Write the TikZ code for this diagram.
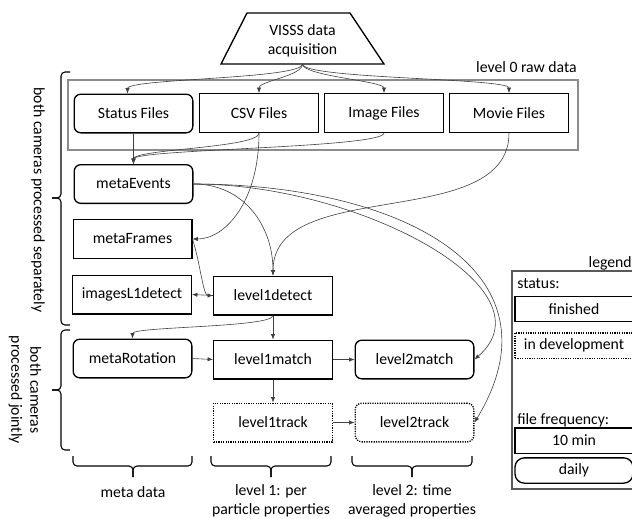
\documentclass[tikz,border=0pt]{standalone}
\usepackage{fontspec}
\setmainfont{Carlito}
\usetikzlibrary{arrows.meta,calc}

\begin{document}
\begin{tikzpicture}[x=0.75pt,y=-0.75pt,
  font=\fontsize{11.8}{14.2}\selectfont,
  box/.style={draw=black,line width=1pt,minimum width=89pt,minimum height=29pt,inner sep=1pt},
  rbox/.style={box,rounded corners=5pt},
  devbox/.style={box,dash pattern=on 0.9pt off 0.9pt},
  rdevbox/.style={rbox,dash pattern=on 0.9pt off 0.9pt},
  lgbox/.style={box,minimum width=88.5pt,minimum height=19pt},
  edge/.style={draw=black!75,line width=0.45pt,-{Latex[length=4pt,width=3.2pt]}},
  bracket/.style={draw=black,line width=0.8pt,rounded corners=3pt},
  plain/.style={inner sep=0pt},
]
\clip (0,0) rectangle (632,518);

% data acquisition (trapezoid)
\draw[line width=1pt] (247,13) -- (350,13) -- (384,64) -- (221,64) -- cycle;
\node[plain,align=center] (visss) at (302.5,41) {VISSS data\\acquisition};
\coordinate (visss-b) at (302.5,64);

% level 0 group
\node[draw=black!45,line width=0.8pt,minimum width=382.5pt,minimum height=52.5pt,inner sep=0pt] (lvl0) at (323,115) {};
\node[plain,anchor=east] (lvl0-label) at (577,67) {level 0 raw data};

% processing nodes
\node[rbox] (stat) at (133.5,113.5) {Status Files};
\node[box]  (csv)  at (259,113) {CSV Files};
\node[box]  (img)  at (384,113) {Image Files};
\node[box]  (mov)  at (509,113) {Movie Files};

\node[rbox] (mev)  at (133.5,184) {metaEvents};
\node[box]  (mfr)  at (132.5,239) {metaFrames};
\node[box]  (ils)  at (132,294.5) {imagesL1detect};
\node[box]  (l1d)  at (273,295.5) {level1detect};

\node[rbox] (mrot) at (132.5,358.5) {metaRotation};
\node[box]  (l1m)  at (273,359.5) {level1match};
\node[devbox] (l1t) at (273,422.5) {level1track};
\node[rbox] (l2m)  at (414.5,359.5) {level2match};
\node[rdevbox] (l2t) at (414.5,422.5) {level2track};

% connectors
\draw[edge] (visss-b) .. controls +(0,15) and +(0,-15) .. ([xshift=-4.5pt]stat.north);
\draw[edge] (visss-b) .. controls +(0,12) and +(0,-12) .. (csv.north);
\draw[edge] (visss-b) .. controls +(0,12) and +(0,-12) .. (img.north);
\draw[edge] (visss-b) .. controls +(0,15) and +(0,-15) .. (mov.north);

\draw[edge] (stat.south) -- (mev.north);
\draw[edge] (csv.south) .. controls +(0,15) and +(0,-15) .. (mev.north);
\draw[edge] (img.south) .. controls +(0,15) and +(0,-15) .. (mev.north);
\draw[edge] (csv.south) .. controls +(0,68) and +(33,0) .. (mfr.east);
\draw[edge] (mov.south) .. controls +(0,100) and +(0,-100) .. (l1d.north);

\draw[edge] (mev.east) .. controls +(50,0) and +(0,-50) .. (l1d.north);
\draw[edge] (mev.east) .. controls +(167,0) and +(80,-70) .. (l2m.east);
\draw[edge] (mev.east) .. controls +(207,0) and +(92,-152) .. (l2t.east);

\draw[edge] (mfr.east) .. controls +(8,25) and +(-10,0) .. (l1d.west);
\draw[edge] (l1d.west) -- (ils.east);
\draw[edge] (l1d.south) .. controls +(0,12) and +(0,-12) .. (mrot.north);
\draw[edge] (l1d.south) -- (l1m.north);
\draw[edge] (mrot.east) -- (l1m.west);
\draw[edge] (l1m.east) -- (l2m.west);
\draw[edge] (l1m.south) -- (l1t.north);
\draw[edge] (l1t.east) -- (l2t.west);

% side brackets
\draw[bracket] (70,72) -- (61,72) -- (61,198) -- (52,198);
\draw[bracket] (70,325) -- (61,325) -- (61,198) -- (52,198);
\node[plain,rotate=-90] (sep-label) at (38,200) {both cameras processed separately};

\draw[bracket] (70,330) -- (61,330) -- (61,390) -- (52,390);
\draw[bracket] (70,450) -- (61,450) -- (61,390) -- (52,390);
\node[plain,rotate=-90,align=center] (joint-label) at (25,390) {both cameras\\processed jointly};

% bottom brackets
\draw[bracket] (73,456) -- (73,466) -- (133,466) -- (133,477);
\draw[bracket] (192,456) -- (192,466) -- (133,466) -- (133,477);
\node[plain] (md-label) at (133,492) {meta data};

\draw[bracket] (211,456) -- (211,466) -- (271,466) -- (271,477);
\draw[bracket] (331,456) -- (331,466) -- (271,466) -- (271,477);
\node[plain,align=center] (l1-label) at (271,500.5) {level 1: per\\particle properties};

\draw[bracket] (352,456) -- (352,466) -- (412,466) -- (412,477);
\draw[bracket] (472,456) -- (472,466) -- (412,466) -- (412,477);
\node[plain,align=center] (l2-label) at (412,500.5) {level 2: time\\averaged properties};

% legend
\node[draw=black!65,line width=0.9pt,minimum width=96pt,minimum height=163.5pt,inner sep=0pt] (leg) at (576,380) {};
\node[plain,anchor=east] (leg-title) at (632,263) {legend};
\node[plain,anchor=west] (leg-status) at (517,284) {status:};
\node[lgbox] (leg-fin) at (574,309) {finished};
\node[lgbox,dash pattern=on 0.9pt off 0.9pt] (leg-dev) at (574,345.5) {in development};
\node[plain,anchor=west] (leg-freq) at (517,420) {file frequency:};
\node[lgbox] (leg-ten) at (574,440.5) {10 min};
\node[lgbox,rounded corners=7pt] (leg-day) at (574,470.5) {daily};
\end{tikzpicture}
\end{document}
